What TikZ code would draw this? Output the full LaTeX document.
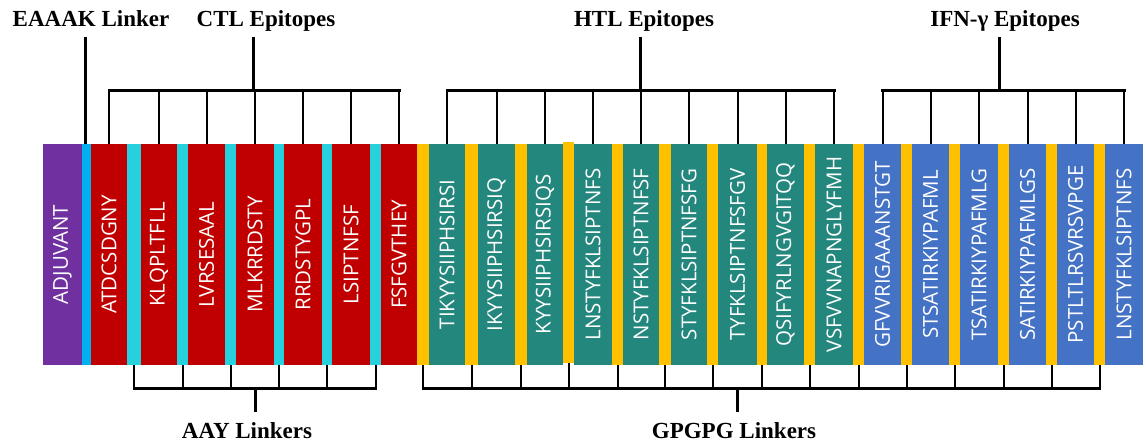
\documentclass[tikz,border=0pt]{standalone}
\usepackage{fontspec}
\setmainfont{Liberation Serif}
\newfontfamily\boxfont{Open Sans}
\definecolor{cpurple}{HTML}{7030A0}
\definecolor{cltblue}{HTML}{00B0F0}
\definecolor{cred}{HTML}{C00000}
\definecolor{ccyan}{RGB}{38,208,220}
\definecolor{cyellow}{HTML}{FFC000}
\definecolor{cteal}{RGB}{35,135,125}
\definecolor{cblue}{HTML}{4472C4}
\newcommand{\seg}[5]{%
  \node[segbox, fill=#4, minimum width={(#3-#2)*1pt}] (#1) at ({(#2+#3)/2},254.5) {\rotatebox{90}{#5}};%
}
\begin{document}
\begin{tikzpicture}[x=1pt,y=-1pt,
  segbox/.style={draw=none, inner sep=0pt, outer sep=0pt, minimum height=221pt, text=white,
    font=\boxfont\fontsize{20.5}{21}\selectfont},
  lab/.style={font=\bfseries\fontsize{23}{25}\selectfont, inner sep=0pt, anchor=base, text=black},
  tick/.style={line width=2pt, black},
  hbar/.style={line width=3pt, black, line cap=rect},
  stem/.style={line width=3pt, black}]
\useasboundingbox (0,0) rectangle (1146,445);
% ---- segments ----
\seg{adj}{43}{82}{cpurple}{ADJUVANT}
\seg{e}{82}{91}{cltblue}{}
\seg{c1}{91}{127}{cred}{ATDCSDGNY}
\seg{a1}{127}{141}{ccyan}{}
\seg{c2}{141}{177}{cred}{KLQPLTFLL}
\seg{a2}{177}{188}{ccyan}{}
\seg{c3}{188}{225}{cred}{LVRSESAAL}
\seg{a3}{225}{236}{ccyan}{}
\seg{c4}{236}{274}{cred}{MLKRRDSTY}
\seg{a4}{274}{284}{ccyan}{}
\seg{c5}{284}{322}{cred}{RRDSTYGPL}
\seg{a5}{322}{332}{ccyan}{}
\seg{c6}{332}{370}{cred}{LSIPTNFSF}
\seg{a6}{370}{381}{ccyan}{}
\seg{c7}{381}{417}{cred}{FSFGVTHEY}
\seg{g1}{417}{429}{cyellow}{}
\seg{h1}{429}{465}{cteal}{TIKYYSIIPHSIRSI}
\seg{g2}{465}{478}{cyellow}{}
\seg{h2}{478}{515}{cteal}{IKYYSIIPHSIRSIQ}
\seg{g3}{515}{527}{cyellow}{}
\seg{h3}{527}{563}{cteal}{KYYSIIPHSIRSIQS}
\node[segbox, fill=cyellow, minimum width=11pt] (g4) at (568.5,252.5) {};
\seg{h4}{574}{612}{cteal}{LNSTYFKLSIPTNFS}
\seg{g5}{612}{623}{cyellow}{}
\seg{h5}{623}{659}{cteal}{NSTYFKLSIPTNFSF}
\seg{g6}{659}{671}{cyellow}{}
\seg{h6}{671}{707}{cteal}{STYFKLSIPTNFSFG}
\seg{g7}{707}{718}{cyellow}{}
\seg{h7}{718}{757}{cteal}{TYFKLSIPTNFSFGV}
\seg{g8}{757}{767}{cyellow}{}
\seg{h8}{767}{804}{cteal}{QSIFYRLNGVGITQQ}
\seg{g9}{804}{815}{cyellow}{}
\seg{h9}{815}{853}{cteal}{VSFVVNAPNGLYFMH}
\seg{g10}{853}{864}{cyellow}{}
\seg{i1}{864}{901}{cblue}{GFVVRIGAAANSTGT}
\seg{g11}{901}{912}{cyellow}{}
\seg{i2}{912}{949}{cblue}{STSATIRKIYPAFML}
\seg{g12}{949}{960}{cyellow}{}
\seg{i3}{960}{998}{cblue}{TSATIRKIYPAFMLG}
\seg{g13}{998}{1009}{cyellow}{}
\seg{i4}{1009}{1046}{cblue}{SATIRKIYPAFMLGS}
\seg{g14}{1046}{1057}{cyellow}{}
\seg{i5}{1057}{1094}{cblue}{PSTLTLRSVRSVPGE}
\seg{g15}{1094}{1105}{cyellow}{}
\seg{i6}{1105}{1143}{cblue}{LNSTYFKLSIPTNFS}
% ---- top labels ----
\node[lab] (eaaak) at (91,26) {EAAAK Linker};
\node[lab] (ctl) at (266,26) {CTL Epitopes};
\node[lab] (htl) at (644,26) {HTL Epitopes};
\node[lab] (ifn) at (1005,26) {IFN-γ Epitopes};
\coordinate (etop) at (85.5,37);
\coordinate (ctltop) at (253,37);
\coordinate (ctlj) at (253,90);
\coordinate (htltop) at (640,37);
\coordinate (htlj) at (640,90);
\coordinate (ifntop) at (999,37);
\coordinate (ifnj) at (999,90);
\draw[stem] (etop) -- (etop |- e.north);
\draw[stem] (ctltop) -- (ctlj);
\draw[stem] (htltop) -- (htlj);
\draw[stem] (ifntop) -- (ifnj);
\draw[hbar] (c1.north |- ctlj) -- (c7.north |- ctlj);
\foreach \k in {1,...,7} \draw[tick] (c\k.north) -- (c\k.north |- ctlj);
\draw[hbar] (h1.north |- htlj) -- (h9.north |- htlj);
\foreach \k in {1,...,9} \draw[tick] (h\k.north) -- (h\k.north |- htlj);
\draw[hbar] (i1.north |- ifnj) -- (i6.north |- ifnj);
\foreach \k in {1,...,6} \draw[tick] (i\k.north) -- (i\k.north |- ifnj);
% ---- bottom labels ----
\node[lab] (aay) at (247,438) {AAY Linkers};
\node[lab] (gpg) at (734,438) {GPGPG Linkers};
\coordinate (aayj) at (255,388);
\coordinate (aaybot) at (255,412);
\coordinate (gpgj) at (737,388);
\coordinate (gpgbot) at (737,412);
\draw[stem] (aayj) -- (aaybot);
\draw[stem] (gpgj) -- (gpgbot);
\draw[hbar] (a1.south |- aayj) -- (a6.south |- aayj);
\foreach \k in {1,...,6} \draw[tick] (a\k.south) -- (a\k.south |- aayj);
\draw[hbar] (g1.south |- gpgj) -- (g15.south |- gpgj);
\foreach \k in {1,...,15} \draw[tick] (g\k.south) -- (g\k.south |- gpgj);
\end{tikzpicture}
\end{document}
